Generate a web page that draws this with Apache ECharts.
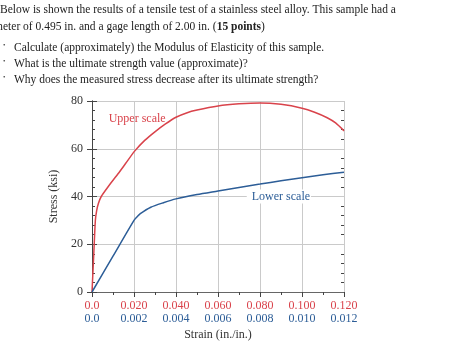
<!DOCTYPE html>
<html><head><meta charset="utf-8">
<script src="https://cdn.jsdelivr.net/npm/echarts@6/dist/echarts.min.js"></script>
<style>html,body{margin:0;padding:0;background:#fff}#c{width:458px;height:362px}</style>
</head><body><div id="c"></div>
<script>
// Upper scale curve (strain 0 - 0.120)
const upperStrain = [0, 0.0008, 0.0016, 0.0022, 0.0030, 0.0044, 0.0076, 0.0124, 0.0159, 0.0203, 0.0251, 0.0298, 0.035, 0.040, 0.045, 0.050, 0.060, 0.070, 0.080, 0.090, 0.100, 0.106, 0.112, 0.116, 0.120];
const upperStress = [0, 15, 30, 34, 37, 40, 44, 49.5, 53.7, 59, 63.5, 67, 70.4, 73.2, 75.0, 76.2, 77.9, 78.8, 79.2, 78.6, 77, 75.3, 73, 70.8, 67.5];
// Lower scale curve (strain 0 - 0.012)
const lowerStrain = [0, 0.0010, 0.0020, 0.00215, 0.0023, 0.0028, 0.0034, 0.0040, 0.0050, 0.0060, 0.0070, 0.0080, 0.0090, 0.0100, 0.0110, 0.0120];
const lowerStress = [0, 15, 30, 31.5, 32.8, 35.5, 37.4, 39.0, 40.8, 42.3, 43.8, 45.2, 46.6, 47.9, 49.1, 50.2];
// Tick labels
const upperTicks = ['0.0', '0.020', '0.040', '0.060', '0.080', '0.100', '0.120'];
const lowerTicks = ['0.0', '0.002', '0.004', '0.006', '0.008', '0.010', '0.012'];
const stressTicks = ['0', '20', '40', '60', '80'];

const RED = '#d9434b', BLUE = '#2c5d97', AX = '#444', GRID = '#cacaca';
const FONT = '"Liberation Serif", "DejaVu Serif", serif';

const chart = echarts.init(document.getElementById('c'));
const yBase = {type: 'value', min: 0, max: 80, interval: 20};
chart.setOption({
  animation: false,
  grid: {left: 92, right: 114, top: 101, bottom: 70},
  textStyle: {fontFamily: FONT},
  graphic: [
    {type: 'text', x: 0, y: 4, style: {text: 'Below is shown the results of a tensile test of a stainless steel alloy. This sample had a', font: '11.5px ' + FONT, fill: '#222'}},
    {type: 'text', x: -20, y: 21, style: {text: 'diameter of 0.495 in. and a gage length of 2.00 in. ({b|15 points})', font: '11.5px ' + FONT, fill: '#222', rich: {b: {fontWeight: 'bold', fontSize: 11.5, fontFamily: FONT, fill: '#222'}}}},
    {type: 'text', x: 3, y: 42, style: {text: '•', font: '7px ' + FONT, fill: '#444'}},
    {type: 'text', x: 14, y: 42, style: {text: 'Calculate (approximately) the Modulus of Elasticity of this sample.', font: '11.5px ' + FONT, fill: '#222'}},
    {type: 'text', x: 3, y: 58, style: {text: '•', font: '7px ' + FONT, fill: '#444'}},
    {type: 'text', x: 14, y: 58, style: {text: 'What is the ultimate strength value (approximate)?', font: '11.5px ' + FONT, fill: '#222'}},
    {type: 'text', x: 3, y: 74, style: {text: '•', font: '7px ' + FONT, fill: '#444'}},
    {type: 'text', x: 14, y: 74, style: {text: 'Why does the measured stress decrease after its ultimate strength?', font: '11.5px ' + FONT, fill: '#222'}}
  ],
  xAxis: [
    {type: 'value', position: 'bottom', min: 0, max: 0.12, interval: 0.02,
     name: 'Strain (in./in.)', nameLocation: 'middle', nameGap: 37,
     nameTextStyle: {fontFamily: FONT, fontSize: 12, color: '#333'},
     axisLine: {show: true, lineStyle: {color: AX, width: 1}},
     axisTick: {show: true, length: 5, lineStyle: {color: AX}},
     minorTick: {show: true, splitNumber: 2, length: 3, lineStyle: {color: AX}},
     splitLine: {show: true, lineStyle: {color: GRID, width: 1}},
     axisLabel: {margin: 8, color: RED, fontFamily: FONT, fontSize: 12,
       formatter: (v, i) => upperTicks[i]}},
    {type: 'value', position: 'bottom', offset: 13, min: 0, max: 0.012, interval: 0.002,
     axisLine: {show: false}, axisTick: {show: false}, splitLine: {show: false},
     axisLabel: {margin: 8, color: BLUE, fontFamily: FONT, fontSize: 12,
       formatter: (v, i) => lowerTicks[i]}},
    {type: 'value', position: 'top', min: 0, max: 0.12, interval: 0.02,
     axisLine: {show: true, lineStyle: {color: '#666', width: 1}},
     axisTick: {show: false}, axisLabel: {show: false}, splitLine: {show: false}}
  ],
  yAxis: [
    Object.assign({}, yBase, {position: 'left',
     name: 'Stress (ksi)', nameLocation: 'middle', nameGap: 32, nameRotate: 90,
     nameTextStyle: {fontFamily: FONT, fontSize: 12, color: '#333'},
     axisLine: {show: true, lineStyle: {color: AX}},
     axisTick: {show: true, length: 5, lineStyle: {color: AX}},
     splitLine: {show: true, lineStyle: {color: GRID, width: 1}},
     axisLabel: {margin: 9, color: '#333', fontFamily: FONT, fontSize: 12,
       formatter: (v, i) => stressTicks[i]}}),
    Object.assign({}, yBase, {position: 'left',
     axisLine: {show: false}, axisTick: {show: false, inside: true},
     minorTick: {show: true, splitNumber: 5, length: 3, lineStyle: {color: AX}},
     axisLabel: {show: false}, splitLine: {show: false}}),
    Object.assign({}, yBase, {position: 'right',
     axisLine: {show: true, lineStyle: {color: AX}},
     axisTick: {show: true, length: 5, lineStyle: {color: AX}},
     axisLabel: {show: false}, splitLine: {show: false}}),
    Object.assign({}, yBase, {position: 'right',
     axisLine: {show: false}, axisTick: {show: false, inside: true},
     minorTick: {show: true, splitNumber: 5, length: 3, lineStyle: {color: AX}},
     axisLabel: {show: false}, splitLine: {show: false}})
  ],
  series: [
    {type: 'line', name: 'Upper scale', xAxisIndex: 0, yAxisIndex: 0,
     data: upperStrain.map((x, i) => [x, upperStress[i]]),
     showSymbol: false, smooth: 0.25,
     lineStyle: {color: RED, width: 1.5}, itemStyle: {color: RED},
     markPoint: {symbol: 'rect', symbolSize: 1, itemStyle: {color: 'rgba(0,0,0,0)'},
       label: {show: true, position: 'inside', formatter: 'Upper scale', color: RED, fontFamily: FONT, fontSize: 12},
       data: [{coord: [0.0215, 72.4]}]}},
    {type: 'line', name: 'Lower scale', xAxisIndex: 1, yAxisIndex: 0,
     data: lowerStrain.map((x, i) => [x, lowerStress[i]]),
     showSymbol: false, smooth: 0.25,
     lineStyle: {color: BLUE, width: 1.5}, itemStyle: {color: BLUE},
     markPoint: {symbol: 'rect', symbolSize: 1, itemStyle: {color: 'rgba(0,0,0,0)'},
       label: {show: true, position: 'inside', formatter: 'Lower scale', color: BLUE, fontFamily: FONT, fontSize: 12,
         backgroundColor: '#fff', padding: [1, 1, 1, 5]},
       data: [{coord: [0.0089, 40]}]}}
  ]
});
</script></body></html>
